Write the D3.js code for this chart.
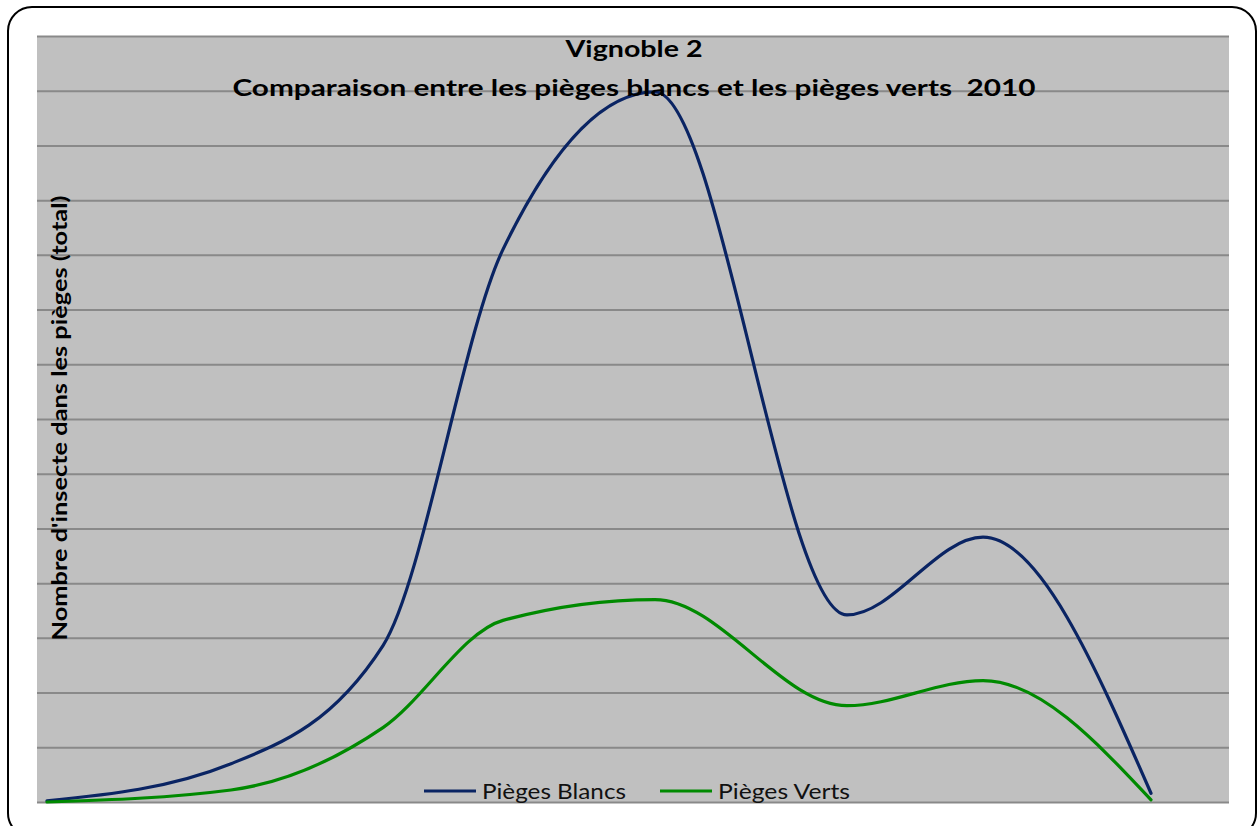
<!DOCTYPE html>
<html>
<head>
<meta charset="utf-8">
<script src="https://cdn.jsdelivr.net/npm/d3@7"></script>
<style>
  body { margin: 0; background: #fff; }
  svg { display: block; font-family: Lato, "Open Sans", sans-serif; }
  text { white-space: pre; }
</style>
</head>
<body>
<div id="chart"></div>
<script>
var width = 1257,
    height = 826;

// data (sampling dates, insect counts)
var dates = ["2010-05-03", "2010-05-26", "2010-06-14", "2010-06-29",
             "2010-07-18", "2010-08-11", "2010-08-28", "2010-09-18"];
var blancs = [0.1, 3.5, 14.3, 50.5, 64.9, 17.1, 24.2, 0.8];
var verts  = [0.0, 1.1, 6.8, 16.6, 18.5, 8.8, 11.1, 0.2];

var seriesNames = ["Pièges Blancs", "Pièges Verts"];
var seriesColors = ["#0a2463", "#008a00"];

var titleLines = ["Vignoble 2", "Comparaison entre les pièges blancs et les pièges verts  2010"];
var yLabel = "Nombre d'insecte dans les pièges (total)";

var parse = d3.timeParse("%Y-%m-%d");

var svg = d3.select('#chart').append('svg')
    .attr('width', width)
    .attr('height', height);

// outer rounded frame
svg.append("rect")
    .attr("x", 8).attr("y", 7)
    .attr("width", 1248).attr("height", 830)
    .attr("rx", 24).attr("ry", 24)
    .attr("fill", "#fff")
    .attr("stroke", "#000")
    .attr("stroke-width", 2);

var plot = {left: 37, top: 36, right: 1229, bottom: 802};

// scales
var first = parse(dates[0]), last = parse(dates[dates.length-1]);
var dayMs = 864e5;
let scaleX = d3.scaleTime()
    .domain([new Date(+first - 1.25*dayMs), new Date(+last + 9.75*dayMs)])
    .range([plot.left, plot.right]);
let scaleY = d3.scaleLinear().domain([0, 70]).range([plot.bottom, plot.top]);

// plot background
svg.append("rect")
    .attr("x", plot.left).attr("y", plot.top)
    .attr("width", plot.right - plot.left)
    .attr("height", plot.bottom - plot.top)
    .attr("fill", "#c0c0c0");

// horizontal gridlines (no labels in the original)
var grid = svg.append("g")
    .attr("transform", "translate(" + plot.left + ",0)")
    .call(d3.axisLeft(scaleY).ticks(14).tickSize(-(plot.right - plot.left)).tickFormat(""));
grid.select(".domain").remove();
grid.selectAll(".tick line").attr("stroke", "#898989").attr("stroke-width", 2);

// lines
var line = d3.line()
    .x(d => scaleX(d.date))
    .y(d => scaleY(d.value))
    .curve(d3.curveMonotoneX);

[blancs, verts].forEach((vals, i) => {
    let data = vals.map((v, j) => ({date: parse(dates[j]), value: v}));
    svg.append("path")
        .datum(data)
        .attr("fill", "none")
        .attr("stroke", seriesColors[i])
        .attr("stroke-width", 3.2)
        .attr("stroke-linecap", "round")
        .attr("d", line);
});

// title
svg.append("text")
    .attr("x", 634).attr("y", 57)
    .attr("text-anchor", "middle")
    .attr("font-weight", "bold")
    .attr("font-size", 23)
    .attr("textLength", 137)
    .attr("lengthAdjust", "spacingAndGlyphs")
    .text(titleLines[0]);
svg.append("text")
    .attr("x", 634).attr("y", 96)
    .attr("text-anchor", "middle")
    .attr("font-weight", "bold")
    .attr("font-size", 23)
    .attr("textLength", 803)
    .attr("lengthAdjust", "spacingAndGlyphs")
    .text(titleLines[1]);

// y axis label
svg.append("text")
    .attr("transform", "translate(67,418) rotate(-90)")
    .attr("text-anchor", "middle")
    .attr("font-weight", "bold")
    .attr("font-size", 20)
    .attr("textLength", 445)
    .attr("lengthAdjust", "spacingAndGlyphs")
    .text(yLabel);

// legend
var legendX = [424, 660], legendTextW = [144, 132];
var legend = svg.append("g");
seriesNames.forEach((name, i) => {
    legend.append("line")
        .attr("x1", legendX[i]).attr("x2", legendX[i] + 52)
        .attr("y1", 791).attr("y2", 791)
        .attr("stroke", seriesColors[i])
        .attr("stroke-width", 3);
    legend.append("text")
        .attr("x", legendX[i] + 58).attr("y", 799)
        .attr("font-size", 21)
        .attr("textLength", legendTextW[i])
        .attr("lengthAdjust", "spacingAndGlyphs")
        .attr("fill", "#111")
        .text(name);
});
</script>
</body>
</html>
